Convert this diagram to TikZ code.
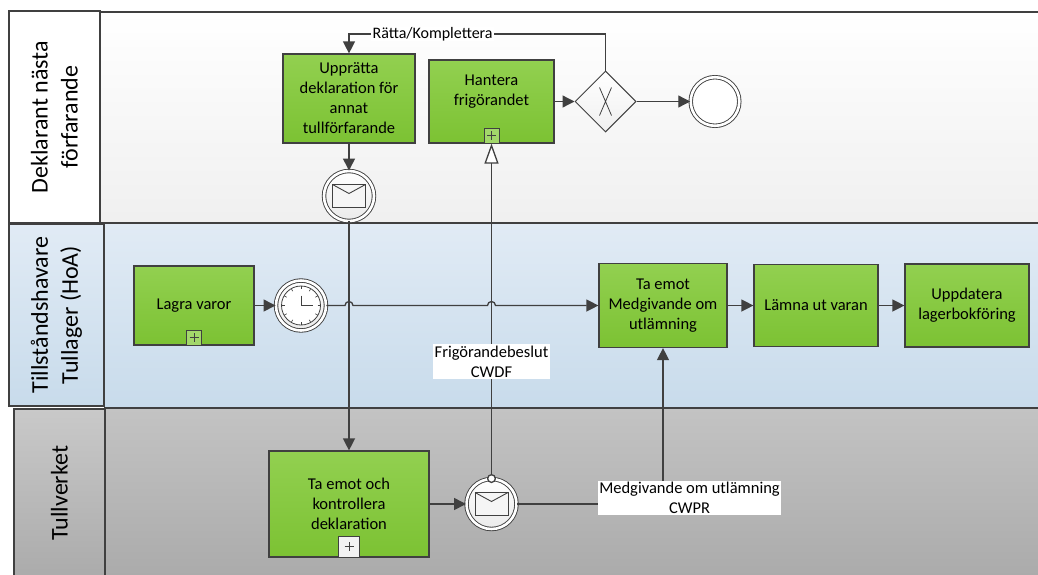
\documentclass[tikz,border=0pt]{standalone}
\usepackage{fontspec}
\setmainfont{Carlito}
\usetikzlibrary{arrows.meta}
\usetikzlibrary{positioning}
\usetikzlibrary{shapes.geometric}
\usetikzlibrary{calc}
\definecolor{edge}{HTML}{404040}
\definecolor{greenhi}{HTML}{92D050}
\definecolor{greenlo}{HTML}{7CC233}
\definecolor{bluehi}{HTML}{E1EBF5}
\definecolor{bluelo}{HTML}{C8DBEB}
\definecolor{grayhi}{HTML}{C3C3C3}
\definecolor{graylo}{HTML}{ABABAB}
\newcommand\tasktxt{\fontsize{16.5pt}{20pt}\selectfont}
\tikzset{lane/.style = {draw=edge, line width=1.5pt}}
\tikzset{lanehead/.style = {draw=edge, line width=1.2pt, rotate=90, align=center, inner sep=0pt, font=\fontsize{24pt}{30pt}\selectfont}}
\tikzset{task/.style = {draw=edge, line width=1.2pt, top color=greenhi, bottom color=greenlo, align=center, inner sep=2pt, font=\tasktxt}}
\tikzset{plus/.style = {draw=edge, line width=0.8pt, fill=greenhi!85!white, minimum size=15pt, inner sep=0pt, anchor=south, path picture={\draw[edge, line width=0.9pt] ($(path picture bounding box.center)+(-4.5,0)$) -- +(9,0) ($(path picture bounding box.center)+(0,-4.5)$) -- +(0,9);}}}
\tikzset{evt/.style = {circle, draw=edge, line width=0.9pt, double=white, double distance=2.6pt, top color=white, bottom color=black!8, minimum size=50pt, inner sep=0pt}}
\tikzset{msgevt/.style = {evt, path picture={\draw[edge, line width=0.9pt, fill=black!4] ($(path picture bounding box.center)+(-16.5,-11.5)$) rectangle ($(path picture bounding box.center)+(16.5,11.5)$); \draw[edge, line width=0.9pt] ($(path picture bounding box.center)+(-16.5,-11.5)$) -- ($(path picture bounding box.center)+(0,-2.5)$) -- ($(path picture bounding box.center)+(16.5,-11.5)$);}}}
\tikzset{timer/.style = {evt, path picture={\draw[edge, line width=0.8pt, fill=white] (path picture bounding box.center) circle [radius=19.5]; \foreach \a in {0,30,...,330} \draw[edge, line width=0.6pt] ($(path picture bounding box.center)+(\a:16.5)$) -- ($(path picture bounding box.center)+(\a:19.5)$); \draw[edge, line width=1pt] ($(path picture bounding box.center)+(0,-10)$) -- (path picture bounding box.center) -- +(12,0);}}}
\tikzset{slut/.style = {circle, draw=edge, line width=0.9pt, double=white, double distance=2.6pt, fill=white, minimum size=48.6pt, inner sep=0pt}}
\tikzset{gate/.style = {diamond, aspect=1, draw=edge, line width=1pt, top color=white, bottom color=black!6, minimum width=61pt, minimum height=61pt, inner sep=0pt, path picture={\draw[edge, line width=0.8pt] ($(path picture bounding box.center)+(-6,-14)$) -- ($(path picture bounding box.center)+(6,14)$) ($(path picture bounding box.center)+(6,-14)$) -- ($(path picture bounding box.center)+(-6,14)$);}}}
\tikzset{lbl/.style = {fill=white, inner xsep=1.5pt, inner ysep=1.5pt, align=center, font=\tasktxt}}
\tikzset{flow/.style = {draw=edge, line width=1.3pt, -{Triangle[length=12pt,width=12pt]}}}
\tikzset{msg/.style = {draw=edge, line width=1.3pt, {Circle[fill=white,length=9pt]}-{Triangle[fill=white,length=20pt,width=14pt]}, shorten <=-4.5pt}}

\begin{document}
\begin{tikzpicture}[x=1pt,y=-1pt]
    \useasboundingbox (0,0) rectangle (1038,574);
    \shade [top color=white, bottom color=black!6] (100,12) rectangle (1038,223);
    \shade [top color=bluehi, bottom color=bluelo] (104,223) rectangle (1038,408);
    \shade [top color=grayhi, bottom color=graylo] (105,408) rectangle (1038,576);
    \draw [lane] (100,12) -- (1038,12);
    \draw [lane] (9,223) -- (1038,223);
    \draw [lane] (104,408) -- (1038,408);
    \node [lanehead, fill=white, minimum width=212pt, minimum height=91pt] (deklarant) at (54.5,117) {Deklarant nästa\\förfarande};
    \node [lanehead, top color=bluehi, bottom color=bluelo, minimum width=182pt, minimum height=95pt] (tullager) at (56.5,315) {Tillståndshavare\\Tullager (HoA)};
    \node [lanehead, top color=grayhi!90!white, bottom color=graylo, minimum width=168pt, minimum height=91pt] (tullverket) at (59.5,493) {Tullverket};

    \node [task, minimum width=132pt, minimum height=89pt] (upprat) at (349,98.5) {Upprätta\\deklaration för\\annat\\tullförfarande};
    \node [task, minimum width=125pt, minimum height=83pt, label={[yshift=10pt, align=center, font=\tasktxt]center:Hantera\\frigörandet}] (hantera) at (491.5,101.5) {};
    \node [plus] (hanteraplus) at (hantera.south) {};
    \node [gate] (xor) at (605.5,101.5) {};
    \node [slut] (slut) at (715,101.5) {};
    \node [msgevt] (skicka) at (349,196) {};
    \node [task, minimum width=120pt, minimum height=79pt] (lagra) at (194,305.5) {Lagra varor};
    \node [plus] (lagraplus) at (lagra.south) {};
    \node [timer] (timer) at (301,305.5) {};
    \node [task, minimum width=128pt, minimum height=84pt] (medgiv) at (663,305.5) {Ta emot\\Medgivande om\\utlämning};
    \node [task, minimum width=124pt, minimum height=82pt] (lamna) at (816,305.5) {Lämna ut varan};
    \node [task, minimum width=124pt, minimum height=83pt] (uppdat) at (967,305.5) {Uppdatera\\lagerbokföring};
    \node [task, minimum width=160pt, minimum height=106pt] (kontroll) at (349,504) {Ta emot och\\kontrollera\\deklaration};
    \node [plus, fill=black!5, minimum size=21pt] (kontrollplus) at (kontroll.south) {};
    \node [msgevt] (mottag) at (491.5,504) {};

    \draw [flow] (upprat) -- (skicka);
    \draw [flow] (skicka) -- (kontroll);
    \draw [flow] (hantera) -- (xor);
    \draw [flow] (xor) -- (slut);
    \draw [flow] (xor.north) -- ++(0,-36.5) -| node [lbl, pos=0.337, inner ysep=0pt, font=\fontsize{16pt}{20pt}\selectfont] (ratta) {Rätta/Komplettera} (upprat.north);
    \draw [flow] (lagra) -- (timer);
    \draw [flow] (timer) -- ($(timer -| skicka)+(-4,0)$) arc [start angle=180, end angle=360, radius=4] -- ($(timer -| hantera)+(-4,0)$) arc [start angle=180, end angle=360, radius=4] -- (medgiv);
    \draw [flow] (medgiv) -- (lamna);
    \draw [flow] (lamna) -- (uppdat);
    \draw [flow] (kontroll) -- (mottag);
    \draw [msg] (mottag.north) -- (hantera.south);
    \draw [flow] (mottag) -| (medgiv);
    \node [lbl] (cwdf) at (491.5,361.5) {Frigörandebeslut\\CWDF};
    \node [lbl] (cwpr) at (689.5,498) {Medgivande om utlämning\\CWPR};
\end{tikzpicture}
\end{document}
